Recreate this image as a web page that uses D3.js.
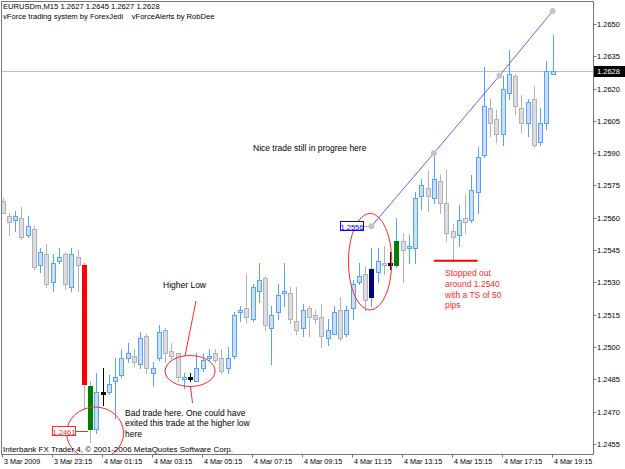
<!DOCTYPE html>
<html>
<head>
<meta charset="utf-8">
<script src="https://cdn.jsdelivr.net/npm/d3@7"></script>
<style>
  body { margin: 0; background: #fff; }
  svg { display: block; font-family: "Liberation Sans", Arial, sans-serif; }
</style>
</head>
<body>
<div id="chart"></div>
<script>
// EURUSDm M15 bars, 3 Mar 2009 21:15 -> 4 Mar 2009 19:15 (89 bars)
const opens = [1.2568,1.2561,1.2559,1.2560,1.2552,1.2555,1.2538,1.2543,1.2530,1.2540,1.2543,1.2528,1.2542,1.2538,1.2482,1.2462,1.2479,1.2479,1.2484,1.2487,1.2495,1.2496,1.2492,1.2505,1.2488,1.2495,1.2508,1.2498,1.2497,1.2485,1.2486,1.2484,1.2490,1.2495,1.2497,1.2495,1.2490,1.2496,1.2516,1.2518,1.2513,1.2526,1.2532,1.2509,1.2516,1.2525,1.2525,1.2512,1.2509,1.2518,1.2515,1.2514,1.2504,1.2506,1.2517,1.2506,1.2518,1.2530,1.2534,1.2523,1.2535,1.2539,1.2539,1.2538,1.2549,1.2546,1.2546,1.2570,1.2574,1.2569,1.2577,1.2567,1.2554,1.2552,1.2560,1.2559,1.2572,1.2589,1.2611,1.2606,1.2599,1.2618,1.2626,1.2611,1.2604,1.2615,1.2595,1.2604,1.2627];
const highs = [1.2569,1.2562,1.2563,1.2565,1.2561,1.2556,1.2546,1.2548,1.2543,1.2546,1.2544,1.2546,1.2545,1.2539,1.2484,1.2488,1.2490,1.2487,1.2495,1.2499,1.2502,1.2499,1.2507,1.2506,1.2493,1.2510,1.2509,1.2502,1.2497,1.2488,1.2488,1.2497,1.2497,1.2499,1.2499,1.2499,1.2500,1.2516,1.2519,1.2534,1.2529,1.2539,1.2533,1.2519,1.2529,1.2539,1.2528,1.2528,1.2520,1.2519,1.2517,1.2520,1.2513,1.2519,1.2523,1.2519,1.2531,1.2539,1.2537,1.2546,1.2546,1.2547,1.2544,1.2560,1.2553,1.2552,1.2572,1.2578,1.2582,1.2590,1.2580,1.2582,1.2557,1.2566,1.2571,1.2580,1.2593,1.2630,1.2615,1.2610,1.2626,1.2638,1.2627,1.2617,1.2615,1.2621,1.2611,1.2633,1.2645];
const lows = [1.2562,1.2552,1.2554,1.2550,1.2551,1.2536,1.2535,1.2528,1.2526,1.2539,1.2527,1.2526,1.2526,1.2471,1.2456,1.2460,1.2473,1.2478,1.2467,1.2486,1.2493,1.2491,1.2490,1.2488,1.2482,1.2494,1.2493,1.2494,1.2484,1.2481,1.2484,1.2484,1.2489,1.2494,1.2493,1.2488,1.2488,1.2495,1.2512,1.2511,1.2512,1.2521,1.2508,1.2492,1.2513,1.2519,1.2511,1.2506,1.2505,1.2505,1.2511,1.2500,1.2501,1.2506,1.2503,1.2505,1.2513,1.2529,1.2517,1.2519,1.2530,1.2534,1.2536,1.2537,1.2530,1.2539,1.2539,1.2564,1.2563,1.2567,1.2562,1.2549,1.2540,1.2547,1.2553,1.2558,1.2562,1.2588,1.2598,1.2595,1.2594,1.2615,1.2608,1.2600,1.2598,1.2593,1.2594,1.2601,1.2627];
const closes = [1.2562,1.2558,1.2561,1.2551,1.2556,1.2537,1.2544,1.2529,1.2539,1.2542,1.2529,1.2543,1.2538,1.2483,1.2462,1.2479,1.2478,1.2483,1.2486,1.2495,1.2497,1.2493,1.2504,1.2490,1.2490,1.2507,1.2497,1.2496,1.2486,1.2486,1.2485,1.2490,1.2494,1.2496,1.2494,1.2489,1.2495,1.2515,1.2517,1.2514,1.2528,1.2531,1.2510,1.2515,1.2524,1.2526,1.2513,1.2508,1.2517,1.2514,1.2513,1.2505,1.2508,1.2516,1.2504,1.2517,1.2529,1.2533,1.2522,1.2536,1.2540,1.2538,1.2538,1.2549,1.2545,1.2547,1.2569,1.2575,1.2570,1.2578,1.2567,1.2553,1.2551,1.2559,1.2558,1.2573,1.2588,1.2612,1.2604,1.2599,1.2620,1.2627,1.2612,1.2604,1.2614,1.2594,1.2604,1.2628,1.2628];

// bars painted by vForce
const signalIdx = [13, 14, 16, 30, 59, 62, 63];
const signalColor = ["#ff0000", "#008000", "#000000", "#000000", "#000080", "#000000", "#008000"];

// time axis: one label every 8 bars
const timeLabels = ["3 Mar 2009", "3 Mar 23:15", "4 Mar 01:15", "4 Mar 03:15", "4 Mar 05:15", "4 Mar 07:15",
                    "4 Mar 09:15", "4 Mar 11:15", "4 Mar 13:15", "4 Mar 15:15", "4 Mar 17:15", "4 Mar 19:15"];
const priceTicks = [1.2455, 1.2470, 1.2485, 1.2500, 1.2515, 1.2530, 1.2545, 1.2560, 1.2575, 1.2590, 1.2605, 1.2620, 1.2635, 1.2650];

// trend line points (bar index, price)
const trendIdx = [59, 69, 79.5, 88];
const trendPrice = [1.2556, 1.2590, 1.2626, 1.2656];

const bid = 1.2628;
const entryPrice = 1.2461;
const markPrice = 1.2556;
const stopPrice = 1.2540;

const W = 625, H = 469;
const plot = {left: 1.5, right: 593.5, top: 1.5, bottom: 454.5};

const svg = d3.select("#chart")
    .append("svg")
    .attr("width", W)
    .attr("height", H);

svg.append("rect").attr("width", W).attr("height", H).attr("fill", "#fff");

// scales: bar index -> x, price -> y
const x = d3.scaleLinear().domain([0, 88]).range([2.6, 552.6]);
const y = d3.scaleLinear().domain([1.2455, 1.2650]).range([443.8, 24]);

svg.append("clipPath").attr("id", "plotClip")
    .append("rect")
    .attr("x", plot.left).attr("y", plot.top)
    .attr("width", plot.right - plot.left).attr("height", plot.bottom - plot.top);

const g = svg.append("g").attr("clip-path", "url(#plotClip)");

// bid line
g.append("line")
    .attr("x1", plot.left).attr("x2", plot.right)
    .attr("y1", Math.round(y(bid)) + 0.5).attr("y2", Math.round(y(bid)) + 0.5)
    .attr("stroke", "#c0c0c0");

const bars = d3.range(opens.length).map(i => ({
    i, o: opens[i], h: highs[i], l: lows[i], c: closes[i],
    sig: signalIdx.indexOf(i) >= 0 ? signalColor[signalIdx.indexOf(i)] : null
}));

const upLine = "#4fa6ff", upFill = "#d2dcf6";
const dnLine = "#b2b2b2", dnFill = "#dcdce8";

const px = v => Math.round(v) + 0.5;

// wicks
g.selectAll(".wick")
    .data(bars)
    .join("line")
    .attr("class", "wick")
    .attr("x1", d => px(x(d.i))).attr("x2", d => px(x(d.i)))
    .attr("y1", d => Math.round(y(d.h))).attr("y2", d => Math.round(y(d.l)) + 1)
    .attr("stroke", d => d.sig === "#000000" ? "#000" : (d.c >= d.o ? upLine : dnLine));

// bodies
g.selectAll(".body")
    .data(bars)
    .join("rect")
    .attr("class", "body")
    .attr("x", d => px(x(d.i)) - 2)
    .attr("y", d => px(y(Math.max(d.o, d.c))))
    .attr("width", 4)
    .attr("height", d => Math.max(0, Math.round(y(Math.min(d.o, d.c))) - Math.round(y(Math.max(d.o, d.c)))))
    .attr("fill", d => d.sig ? d.sig : (d.c >= d.o ? upFill : dnFill))
    .attr("stroke", d => d.sig ? d.sig : (d.c >= d.o ? upLine : dnLine))
    .attr("stroke-width", 1);

// trend line with anchor points
const trend = trendIdx.map((t, k) => [x(t), y(trendPrice[k])]);
g.append("path")
    .attr("d", d3.line()(trend))
    .attr("fill", "none")
    .attr("stroke", "#6a5cff")
    .attr("stroke-width", 1);
g.selectAll(".tp")
    .data(trend)
    .join("circle")
    .attr("cx", d => d[0]).attr("cy", d => d[1])
    .attr("r", 3)
    .attr("fill", "#c4c4c4");

// stop-out level
g.append("line")
    .attr("x1", x(69)).attr("x2", x(76))
    .attr("y1", y(stopPrice)).attr("y2", y(stopPrice))
    .attr("stroke", "#ff0000").attr("stroke-width", 2);

// red ellipses
const red = "#ff2a2a";
[[14.8, 1.2460, 28.5, 26], [30.0, 1.24888, 25, 15.5], [58.8, 1.25396, 21.7, 48.3]].forEach(e => {
    g.append("ellipse")
        .attr("cx", x(e[0])).attr("cy", y(e[1]))
        .attr("rx", e[2]).attr("ry", e[3])
        .attr("fill", "none").attr("stroke", red).attr("stroke-width", 1);
});

// pointers from the higher-low ellipse
g.append("line").attr("x1", 185).attr("y1", 356).attr("x2", 196).attr("y2", 301)
    .attr("stroke", red);
g.append("line").attr("x1", 190.5).attr("y1", 387).attr("x2", 192.5).attr("y2", 403)
    .attr("stroke", red);

// entry price label
g.append("line").attr("x1", 76).attr("x2", x(14) - 2)
    .attr("y1", px(y(entryPrice))).attr("y2", px(y(entryPrice)))
    .attr("stroke", red);
g.append("rect").attr("x", 52.5).attr("y", px(y(entryPrice)) - 5).attr("width", 23).attr("height", 9)
    .attr("fill", "#fff").attr("stroke", red);
g.append("text").attr("x", 64).attr("y", px(y(entryPrice)) + 3)
    .attr("text-anchor", "middle").style("font-size", "7.5px").attr("fill", red)
    .text(entryPrice.toFixed(4));

// trend start label
g.append("line").attr("x1", 363).attr("x2", x(59) - 3)
    .attr("y1", px(y(markPrice))).attr("y2", px(y(markPrice)))
    .attr("stroke", "#b0b0b0");
g.append("rect").attr("x", 340.5).attr("y", px(y(markPrice)) - 5).attr("width", 23).attr("height", 9)
    .attr("fill", "#fff").attr("stroke", "#0000ff");
g.append("text").attr("x", 352).attr("y", px(y(markPrice)) + 3)
    .attr("text-anchor", "middle").style("font-size", "7.5px").attr("fill", "#0000ff")
    .text(markPrice.toFixed(4));

// annotations
const note = (lines, tx, ty, color) => {
    lines.forEach((s, k) => {
        svg.append("text")
            .attr("x", tx).attr("y", ty + k * 10.8)
            .style("font-size", "8.5px")
            .attr("fill", color)
            .text(s);
    });
};
note(["Higher Low"], 163, 288, "#000");
note(["Bad trade here. One could have", "exited this trade at the higher low", "here"], 125, 415.5, "#000");
note(["Nice trade still in progree here"], 253, 151, "#000");
note(["Stopped out", "around 1.2540", "with a TS of 50", "pips"], 445, 276, red);

// header
svg.append("text").attr("x", 3).attr("y", 9).style("font-size", "7.6px")
    .text("EURUSDm,M15  1.2627 1.2645 1.2627 1.2628");
svg.append("text").attr("x", 3).attr("y", 18.5).style("font-size", "7.6px").attr("xml:space", "preserve")
    .text("vForce trading system by ForexJedi    vForceAlerts by RobDee");
svg.append("text").attr("x", 3).attr("y", 452).style("font-size", "8px")
    .text("Interbank FX Trader 4, \u00a9 2001-2006 MetaQuotes Software Corp.");

// frame
svg.append("rect")
    .attr("x", plot.left).attr("y", plot.top)
    .attr("width", plot.right - plot.left).attr("height", plot.bottom - plot.top)
    .attr("fill", "none").attr("stroke", "#777");

// price axis
const yAxis = svg.append("g");
priceTicks.forEach(p => {
    const yy = px(y(p));
    yAxis.append("line").attr("x1", plot.right).attr("x2", plot.right + 3)
        .attr("y1", yy).attr("y2", yy).attr("stroke", "#777");
    yAxis.append("text").attr("x", 597).attr("y", yy + 2.7)
        .style("font-size", "7.5px").text(p.toFixed(4));
});

// bid tag
yAxis.append("rect").attr("x", 594).attr("y", Math.round(y(bid)) - 5).attr("width", 31).attr("height", 11)
    .attr("fill", "#000");
yAxis.append("text").attr("x", 597).attr("y", Math.round(y(bid)) + 3.2)
    .style("font-size", "7.5px").attr("fill", "#fff").text(bid.toFixed(4));

// time axis
const xAxis = svg.append("g");
timeLabels.forEach((t, k) => {
    const xx = px(x(k * 8)) - 1;
    xAxis.append("line").attr("x1", xx).attr("x2", xx)
        .attr("y1", plot.bottom).attr("y2", plot.bottom + 3).attr("stroke", "#777");
    xAxis.append("text").attr("x", xx + 1.5).attr("y", 464)
        .style("font-size", "7.2px").text(t);
});
</script>
</body>
</html>
